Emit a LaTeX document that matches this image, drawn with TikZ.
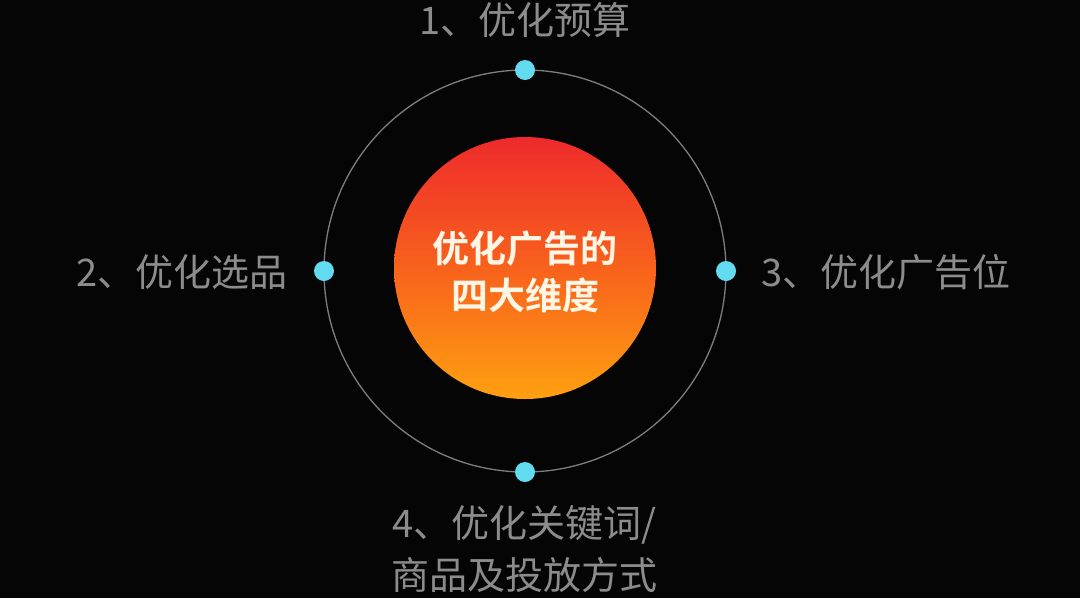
\documentclass[tikz,border=0pt]{standalone}
\usepackage{fontspec}
\setmainfont{Noto Sans CJK SC}
\newfontfamily\cjkbold{Noto Sans CJK SC Bold}
\usetikzlibrary{calc}
\definecolor{bgblack}{HTML}{050505}
\definecolor{labelgray}{HTML}{8C8C8C}
\definecolor{ringgray}{HTML}{7E7E7E}
\definecolor{dotcyan}{HTML}{62DBF0}
\definecolor{hotred}{HTML}{EE2A2C}
\definecolor{hotmid}{HTML}{F8621C}
\definecolor{hotorange}{HTML}{FFA010}
\definecolor{cream}{HTML}{FFF6E6}

\begin{document}
\begin{tikzpicture}[x=1pt, y=-1pt,
		lbl/.style={text=labelgray, font=\fontsize{38}{52}\selectfont, inner sep=0pt, align=center},
		dot/.style={circle, fill=dotcyan, minimum size=20pt, inner sep=0pt}]
			\fill[bgblack] (0,0) rectangle (1080,598);
			\useasboundingbox (0,0) rectangle (1080,598);

			\coordinate (O) at (525,271);
			\draw[ringgray, line width=1.3pt] (O) circle (201);
			\shade[top color=hotred, bottom color=hotorange, middle color=hotmid] (525,268) circle (131);

			\node[text=cream, font=\cjkbold\fontsize{37}{47}\selectfont, align=center, inner sep=0pt] (core) at (525,272) {优化广告的\\四大维度};

			\node[dot] (D1) at ($(O)+(0,-201)$) {};
			\node[dot] (D2) at ($(O)+(-201,0)$) {};
			\node[dot] (D3) at ($(O)+(201,0)$) {};
			\node[dot] (D4) at ($(O)+(0,201)$) {};

			\node[lbl] (L1) at (525,20) {1、优化预算};
			\node[lbl] (L2) at (182,272) {2、优化选品};
			\node[lbl] (L3) at (886,272) {3、优化广告位};
			\node[lbl] (L4) at (524,549) {4、优化关键词/\\商品及投放方式};
		\end{tikzpicture}
\end{document}
